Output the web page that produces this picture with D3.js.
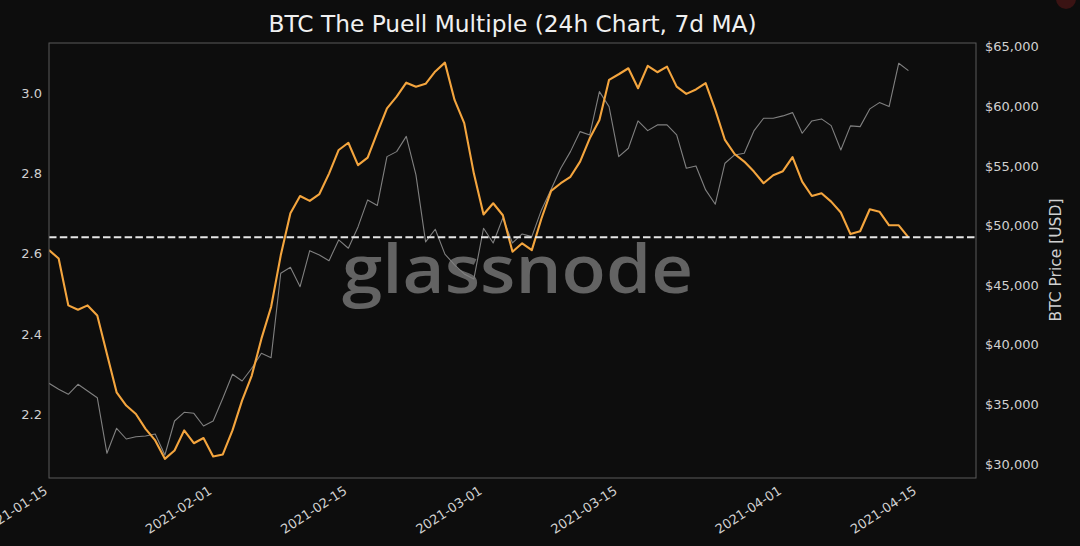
<!DOCTYPE html>
<html>
<head>
<meta charset="utf-8">
<script src="https://cdn.jsdelivr.net/npm/d3@7"></script>
<style>
  html, body { margin: 0; padding: 0; background: #0d0d0d; }
  svg { display: block; }
  text { font-family: "DejaVu Sans", sans-serif; }
</style>
</head>
<body>
<svg id="chart" width="1080" height="546"></svg>
<script>
// ---- data ----
const startDate = "2021-01-15";
const puellValues = [
  2.609, 2.588, 2.471, 2.460, 2.471, 2.446, 2.350, 2.254, 2.221, 2.200,
  2.163, 2.134, 2.088, 2.109, 2.159, 2.127, 2.140, 2.094, 2.099, 2.159,
  2.234, 2.296, 2.388, 2.467, 2.596, 2.701, 2.744, 2.732, 2.749, 2.800,
  2.859, 2.877, 2.821, 2.840, 2.902, 2.963, 2.992, 3.027, 3.017, 3.024,
  3.055, 3.077, 2.984, 2.926, 2.800, 2.698, 2.726, 2.696, 2.605, 2.626,
  2.609, 2.688, 2.757, 2.776, 2.792, 2.830, 2.888, 2.934, 3.034, 3.048,
  3.063, 3.013, 3.069, 3.053, 3.067, 3.017, 2.999, 3.010, 3.026, 2.959,
  2.884, 2.849, 2.830, 2.805, 2.776, 2.796, 2.806, 2.841, 2.780, 2.744,
  2.751, 2.730, 2.703, 2.649, 2.656, 2.711, 2.705, 2.671, 2.671, 2.641
];
const priceValues = [
  36770, 36267, 35847, 36686, 36124, 35562, 30898, 32995, 32097, 32290,
  32349, 32517, 30755, 33607, 34337, 34253, 33188, 33607, 35512, 37525,
  36963, 38029, 39287, 38918, 45998, 46502, 44874, 47894, 47534, 47055,
  48792, 48096, 49883, 52148, 51686, 55780, 56200, 57475, 54245, 48624,
  49690, 47600, 46695, 45940, 45520, 49773, 48540, 50638, 48540, 49295,
  49069, 51309, 53045, 54807, 56200, 57878, 57601, 61233, 59975, 55780,
  56485, 58775, 57961, 58440, 58440, 57601, 54807, 55000, 52987, 51787,
  55226, 55923, 56065, 57936, 59002, 59002, 59195, 59472, 57743, 58775,
  58943, 58381, 56342, 58356, 58297, 59782, 60310, 59975, 63616, 62995
];
const referenceLevel = 2.641;
const leftTicks = [2.2, 2.4, 2.6, 2.8, 3.0];
const rightTicks = [30000, 35000, 40000, 45000, 50000, 55000, 60000, 65000];
const xTickLabels = ["2021-01-15", "2021-02-01", "2021-02-15", "2021-03-01", "2021-03-15", "2021-04-01", "2021-04-15"];
const xDomain = ["2021-01-15", "2021-04-21"];
const leftDomain = [2.0402, 3.126];
const rightDomain = [28826, 65310];
const titleText = "BTC The Puell Multiple (24h Chart, 7d MA)";
const rightLabel = "BTC Price [USD]";
const watermark = "glassnode";

// ---- build ----
const parse = d3.utcParse("%Y-%m-%d");
const fmt = d3.utcFormat("%Y-%m-%d");
const t0 = parse(startDate);
const dates = puellValues.map((_, i) => d3.utcDay.offset(t0, i));
const puell = dates.map((d, i) => ({ date: d, v: puellValues[i] }));
const price = dates.map((d, i) => ({ date: d, v: priceValues[i] }));

const L = 49, R = 976, T = 43, B = 478;
const svg = d3.select("#chart");
svg.append("rect").attr("width", 1080).attr("height", 546).attr("fill", "#0d0d0d");

const x = d3.scaleUtc().domain(xDomain.map(parse)).range([L, R]);
const yL = d3.scaleLinear().domain(leftDomain).range([B, T]);
const yR = d3.scaleLinear().domain(rightDomain).range([B, T]);

// watermark
svg.append("text")
  .attr("x", 342).attr("y", 293)
  .attr("textLength", 351).attr("lengthAdjust", "spacingAndGlyphs")
  .style("font-family", "'Open Sans', sans-serif")
  .style("font-size", "67px")
  .style("font-weight", "600")
  .attr("fill", "#636363")
  .text(watermark);

// clip
svg.append("clipPath").attr("id", "clip")
  .append("rect").attr("x", L).attr("y", T).attr("width", R - L).attr("height", B - T);

const g = svg.append("g").attr("clip-path", "url(#clip)");

// price line
g.append("path")
  .datum(price)
  .attr("fill", "none")
  .attr("stroke", "#808080")
  .attr("stroke-width", 1.1)
  .attr("stroke-linejoin", "round")
  .attr("d", d3.line().x(d => x(d.date)).y(d => yR(d.v)));

// puell line
g.append("path")
  .datum(puell)
  .attr("fill", "none")
  .attr("stroke", "#f4a53e")
  .attr("stroke-width", 2.1)
  .attr("stroke-linejoin", "round")
  .attr("d", d3.line().x(d => x(d.date)).y(d => yL(d.v)));

// reference dashed line
g.append("line")
  .attr("x1", L).attr("x2", R)
  .attr("y1", yL(referenceLevel)).attr("y2", yL(referenceLevel))
  .attr("stroke", "#e6e6e6")
  .attr("stroke-width", 2)
  .attr("stroke-dasharray", "7.5,3.3");

// frame
svg.append("rect")
  .attr("x", L).attr("y", T).attr("width", R - L).attr("height", B - T)
  .attr("fill", "none").attr("stroke", "#5a5a5a").attr("stroke-width", 1);

// left axis
const axL = svg.append("g").attr("transform", `translate(${L},0)`)
  .call(d3.axisLeft(yL).tickValues(leftTicks).tickFormat(d3.format(".1f")).tickSize(0).tickPadding(7));
axL.select(".domain").remove();
axL.selectAll("text").attr("fill", "#d0d0d0").style("font-size", "13px").style("font-family", "'DejaVu Sans', sans-serif");

// right axis
const axR = svg.append("g").attr("transform", `translate(${R},0)`)
  .call(d3.axisRight(yR).tickValues(rightTicks).tickFormat(d3.format("$,")).tickSize(0).tickPadding(9));
axR.select(".domain").remove();
axR.selectAll("text").attr("fill", "#d0d0d0").style("font-size", "13px").style("font-family", "'DejaVu Sans', sans-serif");

// bottom axis
const axB = svg.append("g").attr("transform", `translate(0,${B})`)
  .call(d3.axisBottom(x).tickValues(xTickLabels.map(parse)).tickFormat(fmt).tickSize(0));
axB.select(".domain").remove();
axB.selectAll(".tick text")
  .attr("fill", "#d0d0d0")
  .style("font-size", "13px")
  .style("font-family", "'DejaVu Sans', sans-serif")
  .attr("text-anchor", "end")
  .attr("dy", null)
  .attr("y", 0)
  .attr("transform", "translate(-1,15) rotate(-33)");

// title
svg.append("text")
  .attr("x", (L + R) / 2).attr("y", 31.5)
  .attr("text-anchor", "middle")
  .attr("fill", "#f0f0f0")
  .style("font-size", "23.3px")
  .text(titleText);

// right axis label
svg.append("text")
  .attr("transform", `translate(1061,260) rotate(-90)`)
  .attr("text-anchor", "middle")
  .attr("fill", "#d0d0d0")
  .style("font-size", "15.5px")
  .text(rightLabel);

// corner artifact
svg.append("circle").attr("cx", 1066).attr("cy", -1).attr("r", 10).attr("fill", "#3a1313");
</script>
</body>
</html>
